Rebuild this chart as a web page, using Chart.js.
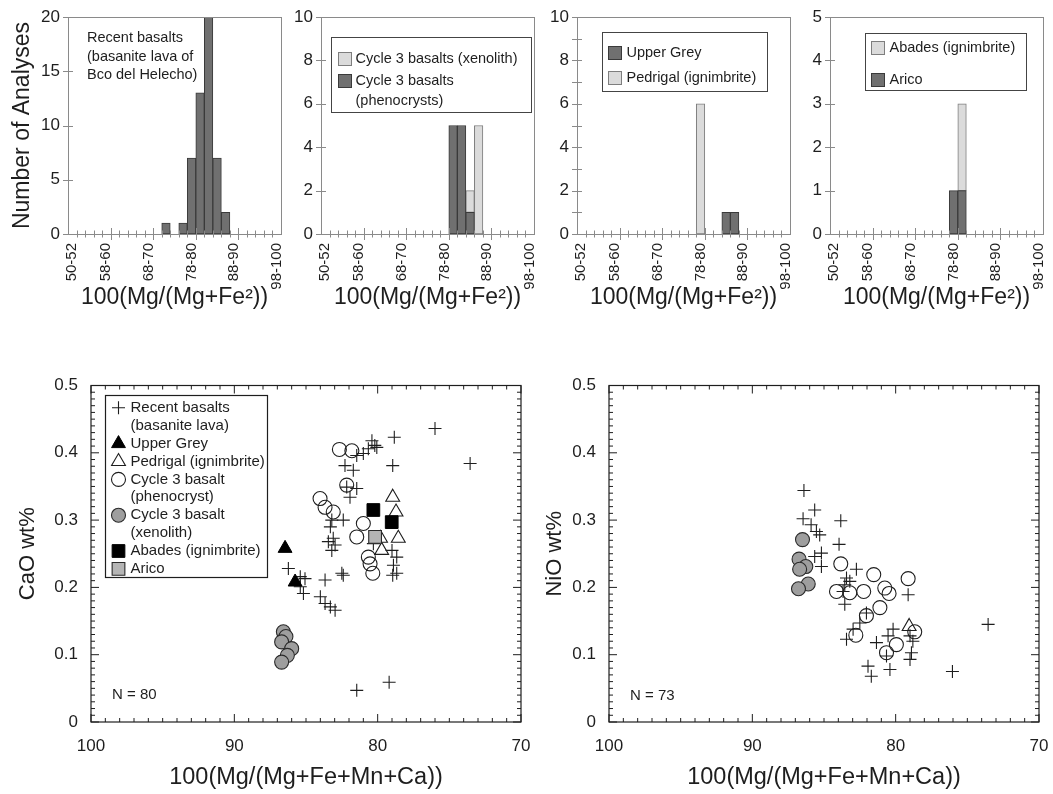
<!DOCTYPE html>
<html>
<head>
<meta charset="utf-8">
<title>Olivine compositions</title>
<script src="https://cdn.jsdelivr.net/npm/chart.js@4.4.1/dist/chart.umd.min.js"></script>
<style>
  body { margin: 0; background: #fff; }
  #fig { position: relative; width: 1053px; height: 794px; overflow: hidden; }
  #fig canvas { position: absolute; }
</style>
</head>
<body>
<div id="fig">
  <canvas id="h1" width="290" height="320" style="left:0;top:0"></canvas>
  <canvas id="h2" width="255" height="320" style="left:290px;top:0"></canvas>
  <canvas id="h3" width="255" height="320" style="left:545px;top:0"></canvas>
  <canvas id="h4" width="253" height="320" style="left:800px;top:0"></canvas>
  <canvas id="s1" width="540" height="424" style="left:0;top:370px"></canvas>
  <canvas id="s2" width="523" height="424" style="left:530px;top:370px"></canvas>
</div>
<script>
// histogram bins, 100 Mg/(Mg+Fe2+)
const binLabels = ['50-52', '52-54', '54-56', '56-58', '58-60', '60-62', '62-64', '64-66', '66-68', '68-70',
    '70-72', '72-74', '74-76', '76-78', '78-80', '80-82', '82-84', '84-86', '86-88', '88-90',
    '90-92', '92-94', '94-96', '96-98', '98-100'];
const shownBins = ['50-52', '58-60', '68-70', '78-80', '88-90', '98-100'];

const recentCounts    = [0, 0, 0, 0, 0, 0, 0, 0, 0, 0, 0, 1, 0, 1, 7, 13, 20, 7, 2, 0, 0, 0, 0, 0, 0];
const phenoCounts     = [0, 0, 0, 0, 0, 0, 0, 0, 0, 0, 0, 0, 0, 0, 0, 5, 5, 1, 0, 0, 0, 0, 0, 0, 0];
const xenoCounts      = [0, 0, 0, 0, 0, 0, 0, 0, 0, 0, 0, 0, 0, 0, 0, 0, 0, 1, 5, 0, 0, 0, 0, 0, 0];
const upperGreyCounts = [0, 0, 0, 0, 0, 0, 0, 0, 0, 0, 0, 0, 0, 0, 0, 0, 0, 1, 1, 0, 0, 0, 0, 0, 0];
const pedrigalCounts  = [0, 0, 0, 0, 0, 0, 0, 0, 0, 0, 0, 0, 0, 0, 6, 0, 0, 0, 0, 0, 0, 0, 0, 0, 0];
const aricoCounts     = [0, 0, 0, 0, 0, 0, 0, 0, 0, 0, 0, 0, 0, 0, 1, 1, 0, 0, 0, 0, 0, 0, 0, 0, 0];
const abadesCounts    = [0, 0, 0, 0, 0, 0, 0, 0, 0, 0, 0, 0, 0, 0, 0, 2, 0, 0, 0, 0, 0, 0, 0, 0, 0];

// [100 Mg/(Mg+Fe+Mn+Ca), CaO wt%]
const caoRecent = [[76.0, 0.436], [73.55, 0.384], [78.84, 0.423], [78.95, 0.381], [80.4, 0.418], [80.2, 0.411],
    [80.65, 0.406], [81.0, 0.399], [80.06, 0.408], [81.46, 0.396], [82.28, 0.381], [81.7, 0.374], [82.16, 0.349],
    [81.46, 0.347], [81.93, 0.334], [82.4, 0.300], [83.2, 0.300], [83.3, 0.290], [83.1, 0.273], [83.44, 0.268],
    [82.97, 0.263], [83.2, 0.255], [79.0, 0.255], [78.67, 0.245], [78.9, 0.233], [78.67, 0.221], [78.95, 0.218],
    [80.3, 0.265], [82.4, 0.218], [83.67, 0.211], [86.23, 0.228], [85.4, 0.216], [85.07, 0.213], [85.4, 0.201],
    [85.18, 0.191], [84.0, 0.186], [83.67, 0.176], [82.97, 0.166], [83.3, 0.171], [81.46, 0.047], [79.2, 0.059],
    [82.5, 0.221]];
const caoUpperGrey = [[86.46, 0.258], [85.76, 0.208]];
const caoPedrigal = [[78.95, 0.334], [78.72, 0.312], [78.56, 0.273], [79.8, 0.273], [79.72, 0.255]];
const caoPheno = [[82.67, 0.405], [81.8, 0.403], [82.16, 0.352], [84.02, 0.332], [83.67, 0.319], [83.1, 0.312],
    [81.0, 0.295], [81.46, 0.275], [80.65, 0.245], [80.53, 0.235], [80.34, 0.221]];
const caoXeno = [[86.58, 0.134], [86.4, 0.127], [86.7, 0.119], [86.0, 0.109], [86.3, 0.099], [86.7, 0.089]];
const caoAbades = [[80.3, 0.315], [79.02, 0.297]];
const caoArico = [[80.18, 0.275]];

// [100 Mg/(Mg+Fe+Mn+Ca), NiO wt%]
const niRecent = [[86.4, 0.344], [85.65, 0.315], [86.46, 0.302], [83.83, 0.299], [85.9, 0.293], [85.53, 0.283],
    [85.3, 0.278], [83.95, 0.264], [85.18, 0.251], [85.65, 0.246], [85.18, 0.231], [82.74, 0.227], [83.43, 0.214],
    [83.2, 0.209], [83.55, 0.204], [83.67, 0.194], [79.13, 0.189], [83.55, 0.175], [82.04, 0.162], [82.5, 0.147],
    [82.97, 0.138], [83.43, 0.123], [81.34, 0.118], [80.18, 0.138], [80.53, 0.128], [79.0, 0.128], [78.8, 0.120],
    [78.9, 0.103], [79.0, 0.093], [81.93, 0.083], [80.4, 0.078], [81.7, 0.068], [76.04, 0.075], [80.64, 0.098],
    [73.55, 0.145]];
const niPheno = [[83.83, 0.235], [81.53, 0.219], [79.13, 0.213], [84.13, 0.194], [83.2, 0.192], [82.23, 0.194],
    [80.76, 0.199], [80.46, 0.191], [81.1, 0.170], [82.04, 0.158], [82.78, 0.129], [79.95, 0.115], [80.64, 0.103],
    [78.67, 0.134]];
const niXeno = [[86.5, 0.271], [86.74, 0.242], [86.27, 0.231], [86.7, 0.227], [86.1, 0.205], [86.78, 0.198]];
const niPedrigal = [[79.06, 0.142]];

const family = '"Liberation Sans", Arial, Helvetica, sans-serif';
const ink = '#1e1e1e';
const axisGrey = '#8a8a8a';
const darkFill = '#707070', darkEdge = '#3a3a3a';
const lightFill = '#dbdbdb', lightEdge = '#7e7e7e';

Chart.defaults.font.family = family;
Chart.defaults.color = ink;

// keep the plot box where the axis widths put it, labels may overhang
function fixHeight(h) {
    return function (scale) {
        scale.height = h;
        scale.paddingLeft = 0;
        scale.paddingRight = 0;
    };
}
function fixWidth(w) {
    return function (scale) {
        scale.width = w;
        scale.paddingTop = 0;
        scale.paddingBottom = 0;
    };
}

// gray box, crossing ticks on the bin boundaries and the y values
const histFrame = {
    id: 'histFrame',
    afterDraw(chart, args, o) {
        const { ctx, chartArea: a, scales: { x, y } } = chart;
        ctx.save();
        ctx.strokeStyle = axisGrey;
        ctx.lineWidth = 1;
        ctx.strokeRect(Math.round(a.left) + 0.5, Math.round(a.top) + 0.5, Math.round(a.width), Math.round(a.height));
        const n = binLabels.length;
        const bw = x.getPixelForValue(1) - x.getPixelForValue(0);
        ctx.beginPath();
        for (let k = 1; k < n; k++) {
            const px = Math.round(x.getPixelForValue(k) - bw / 2) + 0.5;
            const len = k % 5 === 0 ? 6 : 3.5;
            ctx.moveTo(px, a.bottom - len);
            ctx.lineTo(px, a.bottom + len);
        }
        const yVals = y.ticks.map(t => t.value);
        if (o.minorY) {
            for (let v = o.minorY; v < y.max; v += 2 * o.minorY) yVals.push(v);
        }
        yVals.forEach(v => {
            const py = Math.round(y.getPixelForValue(v)) + 0.5;
            ctx.moveTo(a.left - 5, py);
            ctx.lineTo(a.left + 5, py);
        });
        ctx.stroke();
        ctx.restore();
    }
};

// boxed legend with square swatches taken from the datasets
const swatchLegend = {
    id: 'swatchLegend',
    afterDraw(chart, args, o) {
        if (!o.items) return;
        const { ctx, chartArea: a } = chart;
        const bx = Math.round(a.left + o.x) + 0.5, by = Math.round(a.top + o.y) + 0.5;
        ctx.save();
        ctx.lineWidth = 1;
        ctx.strokeStyle = '#444';
        ctx.strokeRect(bx, by, o.w, o.h);
        ctx.font = '14.5px ' + family;
        ctx.textBaseline = 'middle';
        o.items.forEach(it => {
            const ds = chart.data.datasets[it.ds];
            const cy = by + it.y;
            ctx.fillStyle = ds.backgroundColor;
            ctx.fillRect(bx + o.sx, Math.round(cy - 6.5), 13, 13);
            ctx.strokeStyle = ds.borderColor;
            ctx.strokeRect(bx + o.sx, Math.round(cy - 6.5) + 0.5, 13, 13);
            ctx.fillStyle = ink;
            ds.label.split('\n').forEach((ln, j) => ctx.fillText(ln, bx + o.tx, cy + j * o.lh));
        });
        ctx.restore();
    }
};

// free text inside the plot area
const textNote = {
    id: 'textNote',
    afterDraw(chart, args, o) {
        if (!o.lines) return;
        const { ctx, chartArea: a } = chart;
        ctx.save();
        ctx.font = o.size + 'px ' + family;
        ctx.fillStyle = ink;
        ctx.textBaseline = 'middle';
        const y0 = o.fromBottom ? a.bottom - o.dy : a.top + o.dy;
        o.lines.forEach((ln, i) => ctx.fillText(ln, a.left + o.dx, y0 + i * (o.step || 0)));
        ctx.restore();
    }
};

// black box with inward ticks on all four sides
const sciFrame = {
    id: 'sciFrame',
    afterDraw(chart) {
        const { ctx, chartArea: a, scales: { x, y } } = chart;
        ctx.save();
        ctx.strokeStyle = ink;
        ctx.lineWidth = 1.2;
        ctx.strokeRect(a.left, a.top, a.width, a.height);
        ctx.lineWidth = 1;
        ctx.beginPath();
        for (let i = 70; i <= 100; i++) {
            const px = x.getPixelForValue(i);
            const len = i % 10 === 0 ? 8 : 4;
            ctx.moveTo(px, a.bottom); ctx.lineTo(px, a.bottom - len);
            ctx.moveTo(px, a.top); ctx.lineTo(px, a.top + len);
        }
        for (let i = 0; i <= 50; i++) {
            const py = y.getPixelForValue(i / 100);
            const len = i % 10 === 0 ? 8 : 4;
            ctx.moveTo(a.left, py); ctx.lineTo(a.left + len, py);
            ctx.moveTo(a.right, py); ctx.lineTo(a.right - len, py);
        }
        ctx.stroke();
        ctx.restore();
    }
};

function drawSymbol(ctx, ds, x, y) {
    const opts = { pointStyle: ds.pointStyle, radius: ds.pointRadius, borderWidth: ds.pointBorderWidth, rotation: 0 };
    ctx.fillStyle = ds.pointBackgroundColor;
    ctx.strokeStyle = ds.pointBorderColor;
    ctx.lineWidth = ds.pointBorderWidth;
    if (Chart.helpers && Chart.helpers.drawPoint) {
        Chart.helpers.drawPoint(ctx, opts, x, y);
        return;
    }
    const r = ds.pointRadius;
    ctx.beginPath();
    if (ds.pointStyle === 'cross') {
        ctx.moveTo(x - r, y); ctx.lineTo(x + r, y); ctx.moveTo(x, y - r); ctx.lineTo(x, y + r);
    } else if (ds.pointStyle === 'triangle') {
        ctx.moveTo(x, y - r); ctx.lineTo(x + r * 0.866, y + r / 2); ctx.lineTo(x - r * 0.866, y + r / 2); ctx.closePath();
    } else if (ds.pointStyle === 'rect') {
        const s = r * Math.SQRT1_2; ctx.rect(x - s, y - s, 2 * s, 2 * s);
    } else {
        ctx.arc(x, y, r, 0, Math.PI * 2);
    }
    ctx.fill();
    ctx.stroke();
}

// boxed legend listing the scatter symbols
const symbolLegend = {
    id: 'symbolLegend',
    afterDraw(chart, args, o) {
        if (!o.order) return;
        const { ctx, chartArea: a } = chart;
        const bx = Math.round(a.left + o.x) + 0.5, by = Math.round(a.top + o.y) + 0.5;
        ctx.save();
        ctx.strokeStyle = ink;
        ctx.lineWidth = 1.2;
        ctx.strokeRect(bx, by, o.w, o.h);
        ctx.font = '15px ' + family;
        ctx.textBaseline = 'middle';
        let row = 0;
        o.order.forEach(i => {
            const ds = chart.data.datasets[i];
            drawSymbol(ctx, ds, bx + o.sx, by + o.first + row * o.step);
            ctx.fillStyle = ink;
            ds.label.split('\n').forEach(ln => {
                ctx.fillText(ln, bx + o.tx, by + o.first + row * o.step);
                row++;
            });
        });
        ctx.restore();
    }
};

function bars(label, data, fill, edge) {
    return {
        label: label, data: data,
        backgroundColor: fill, borderColor: edge, borderWidth: 1, borderSkipped: false,
        categoryPercentage: 1, barPercentage: 1
    };
}

function histPanel(id, yWidth, padRight, yMax, yStep, datasets, extra) {
    return new Chart(document.getElementById(id), {
        type: 'bar',
        data: { labels: binLabels, datasets: datasets },
        plugins: [histFrame, swatchLegend, textNote],
        options: {
            responsive: false,
            animation: false,
            events: [],
            layout: { padding: { top: 17, right: padRight, bottom: 0, left: 0 } },
            plugins: {
                legend: { display: false },
                tooltip: { enabled: false },
                histFrame: { minorY: extra.minorY || 0 },
                swatchLegend: extra.legend || {},
                textNote: extra.note || {}
            },
            scales: {
                x: {
                    stacked: true,
                    grid: { display: false, drawTicks: false },
                    border: { display: false },
                    ticks: {
                        autoSkip: false, minRotation: 90, maxRotation: 90, padding: 9,
                        font: { size: 15 }, color: ink,
                        callback: function (value, index) {
                            const lab = binLabels[index];
                            return shownBins.includes(lab) ? lab : '';
                        }
                    },
                    title: { display: true, text: '100(Mg/(Mg+Fe²))', font: { size: 23 }, color: ink, padding: { top: 0, bottom: 9 } },
                    afterFit: fixHeight(86)
                },
                y: {
                    stacked: true,
                    min: 0,
                    max: yMax,
                    grid: { display: false, drawTicks: false },
                    border: { display: false },
                    ticks: { stepSize: yStep, padding: 8, font: { size: 17 }, color: ink },
                    title: {
                        display: !!extra.yTitle, text: extra.yTitle || '', font: { size: 23 }, color: ink,
                        padding: { top: 9, bottom: 0 }
                    },
                    afterFit: fixWidth(yWidth)
                }
            }
        }
    });
}

histPanel('h1', 68, 9, 20, 5, [
    bars('Recent basalts', recentCounts, darkFill, darkEdge)
], {
    yTitle: 'Number of Analyses',
    note: { dx: 19, dy: 21, step: 18.5, size: 14.5, lines: ['Recent basalts', '(basanite lava of', 'Bco del Helecho)'] }
});

histPanel('h2', 31, 11, 10, 2, [
    bars('Cycle 3 basalts\n(phenocrysts)', phenoCounts, darkFill, darkEdge),
    bars('Cycle 3 basalts (xenolith)', xenoCounts, lightFill, lightEdge)
], {
    legend: { x: 10, y: 20, w: 200, h: 75, sx: 7, tx: 24, lh: 20, items: [{ ds: 1, y: 21 }, { ds: 0, y: 43 }] }
});

histPanel('h3', 32, 10, 10, 2, [
    bars('Upper Grey', upperGreyCounts, darkFill, darkEdge),
    bars('Pedrigal (ignimbrite)', pedrigalCounts, lightFill, lightEdge)
], {
    minorY: 1,
    legend: { x: 25, y: 15, w: 165, h: 59, sx: 6, tx: 24, lh: 20, items: [{ ds: 0, y: 20 }, { ds: 1, y: 45 }] }
});

histPanel('h4', 30, 10, 5, 1, [
    bars('Arico', aricoCounts, darkFill, darkEdge),
    bars('Abades (ignimbrite)', abadesCounts, lightFill, lightEdge)
], {
    legend: { x: 35, y: 16, w: 161, h: 57, sx: 6, tx: 24, lh: 20, items: [{ ds: 1, y: 14 }, { ds: 0, y: 46 }] }
});

const clear = 'rgba(255,255,255,0)';
const crossStyle = { pointStyle: 'cross', pointRadius: 6.5, pointBackgroundColor: ink, pointBorderColor: ink, pointBorderWidth: 1.1 };
const solidTri = { pointStyle: 'triangle', pointRadius: 8, pointBackgroundColor: '#000', pointBorderColor: '#000', pointBorderWidth: 1 };
const openTri = { pointStyle: 'triangle', pointRadius: 8, pointBackgroundColor: clear, pointBorderColor: ink, pointBorderWidth: 1.1 };
const openCircle = { pointStyle: 'circle', pointRadius: 7, pointBackgroundColor: clear, pointBorderColor: ink, pointBorderWidth: 1.1 };
const greyCircle = { pointStyle: 'circle', pointRadius: 7, pointBackgroundColor: '#9e9e9e', pointBorderColor: '#2a2a2a', pointBorderWidth: 1.1 };
const solidSquare = { pointStyle: 'rect', pointRadius: 9, pointBackgroundColor: '#000', pointBorderColor: '#000', pointBorderWidth: 1 };
const greySquare = { pointStyle: 'rect', pointRadius: 9, pointBackgroundColor: '#b5b5b5', pointBorderColor: '#2a2a2a', pointBorderWidth: 1.1 };

function marks(label, arr, style, order) {
    return Object.assign({
        label: label,
        data: arr.map(p => ({ x: p[0], y: p[1] })),
        order: order,
        pointHoverRadius: style.pointRadius
    }, style);
}

function scatterPanel(id, yTitle, yTitlePad, yWidth, padRight, datasets, extra) {
    return new Chart(document.getElementById(id), {
        type: 'scatter',
        data: { datasets: datasets },
        plugins: [sciFrame, symbolLegend, textNote],
        options: {
            responsive: false,
            animation: false,
            events: [],
            layout: { padding: { top: 15.5, right: padRight, bottom: 0, left: 0 } },
            plugins: {
                legend: { display: false },
                tooltip: { enabled: false },
                symbolLegend: extra.legend || {},
                textNote: extra.note
            },
            scales: {
                x: {
                    type: 'linear', min: 70, max: 100, reverse: true,
                    grid: { display: false, drawTicks: false },
                    border: { display: false },
                    ticks: { stepSize: 10, padding: 14, font: { size: 17 }, color: ink },
                    title: { display: true, text: '100(Mg/(Mg+Fe+Mn+Ca))', font: { size: 23.5 }, color: ink, padding: { top: 0, bottom: 2 } },
                    afterFit: fixHeight(72)
                },
                y: {
                    min: 0, max: 0.5,
                    grid: { display: false, drawTicks: false },
                    border: { display: false },
                    ticks: { stepSize: 0.1, padding: 13, font: { size: 17 }, color: ink },
                    title: { display: true, text: yTitle, font: { size: 22 }, color: ink, padding: { top: yTitlePad, bottom: 0 } },
                    afterFit: fixWidth(yWidth)
                }
            }
        }
    });
}

scatterPanel('s1', 'CaO wt%', 15, 91, 19, [
    marks('Recent basalts\n(basanite lava)', caoRecent, crossStyle, 7),
    marks('Upper Grey', caoUpperGrey, solidTri, 3),
    marks('Pedrigal (ignimbrite)', caoPedrigal, openTri, 4),
    marks('Cycle 3 basalt\n(phenocryst)', caoPheno, openCircle, 6),
    marks('Cycle 3 basalt\n(xenolith)', caoXeno, greyCircle, 5),
    marks('Abades (ignimbrite)', caoAbades, solidSquare, 1),
    marks('Arico', caoArico, greySquare, 2)
], {
    legend: { x: 14, y: 9.5, w: 162, h: 182, sx: 13, tx: 25, first: 12.3, step: 17.9, order: [0, 1, 2, 3, 4, 5, 6] },
    note: { dx: 21, dy: 27, fromBottom: true, size: 15, lines: ['N = 80'] }
});

scatterPanel('s2', 'NiO wt%', 12, 79, 14, [
    marks('Recent basalts\n(basanite lava)', niRecent, crossStyle, 7),
    marks('Pedrigal (ignimbrite)', niPedrigal, openTri, 4),
    marks('Cycle 3 basalt\n(phenocryst)', niPheno, openCircle, 6),
    marks('Cycle 3 basalt\n(xenolith)', niXeno, greyCircle, 5)
], {
    note: { dx: 21, dy: 26, fromBottom: true, size: 15, lines: ['N = 73'] }
});
</script>
</body>
</html>
